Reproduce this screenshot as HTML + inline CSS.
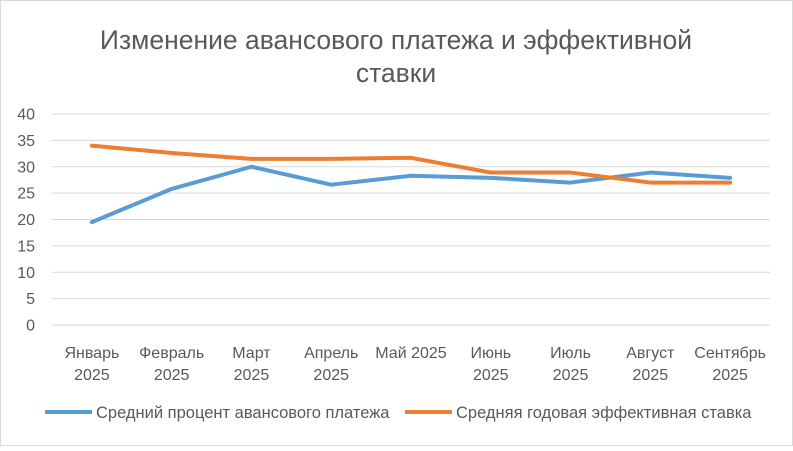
<!DOCTYPE html>
<html><head><meta charset="utf-8"><style>
body{margin:0;background:#fff;}
svg text{font-family:"Liberation Sans","DejaVu Sans",sans-serif;fill:#595959;}
</style></head><body>
<svg width="793" height="446" viewBox="0 0 793 446">
<rect x="0.5" y="0.5" width="792" height="445" fill="#fff" stroke="#d9d9d9"/>
<text x="396" y="49" text-anchor="middle" font-size="26.5">Изменение авансового платежа и эффективной</text>
<text x="396" y="82" text-anchor="middle" font-size="26.5">ставки</text>
<g id="grid"></g><g id="yt"></g><g id="xt"></g><g id="lines"></g>
<g>
<line x1="45" y1="412" x2="92" y2="412" stroke="#5b9bd5" stroke-width="4"/>
<text x="96" y="418" font-size="16.5">Средний процент авансового платежа</text>
<line x1="405" y1="412" x2="452" y2="412" stroke="#ed7d31" stroke-width="4"/>
<text x="456" y="418" font-size="16.5">Средняя годовая эффективная ставка</text>
</g>
</svg>
<script>
const categories=[["Январь","2025"],["Февраль","2025"],["Март","2025"],["Апрель","2025"],["Май 2025",""],["Июнь","2025"],["Июль","2025"],["Август","2025"],["Сентябрь","2025"]];
const advance=[19.5,25.8,30,26.6,28.3,27.9,27,28.9,27.9];
const rate=[34,32.6,31.5,31.5,31.7,28.9,28.9,27,27];
const yTicks=[0,5,10,15,20,25,30,35,40];
const L=52,R=770,T=114,B=325,ymax=40;
const ns="http://www.w3.org/2000/svg";
const xs=i=>L+(R-L)/categories.length*(i+0.5);
const ys=v=>B-(B-T)*v/ymax;
function mk(tag,attrs,parent){const e=document.createElementNS(ns,tag);for(const k in attrs)e.setAttribute(k,attrs[k]);document.getElementById(parent).appendChild(e);return e;}
yTicks.forEach(t=>{
const g=mk('line',{x1:L,x2:R,y1:ys(t),y2:ys(t),stroke:'#d9d9d9','stroke-width':1},'grid');


const tx=mk('text',{x:35,y:ys(t)+5.5,'text-anchor':'end','font-size':16},'yt');tx.textContent=t;


});
categories.forEach((c,i)=>{
const t1=mk('text',{x:xs(i),y:358,'text-anchor':'middle','font-size':16},'xt');t1.textContent=c[0];


if(c[1]){const t2=mk('text',{x:xs(i),y:380,'text-anchor':'middle','font-size':16},'xt');t2.textContent=c[1];

}
});
function line(data,color,name){
const p=mk('polyline',{points:data.map((v,i)=>xs(i)+','+ys(v)).join(' '),fill:'none',stroke:color,'stroke-width':4,'stroke-linejoin':'round','stroke-linecap':'round'},'lines');


}
line(advance,'#5b9bd5','series-advance-line');
line(rate,'#ed7d31','series-rate-line');
</script>
</body></html>
